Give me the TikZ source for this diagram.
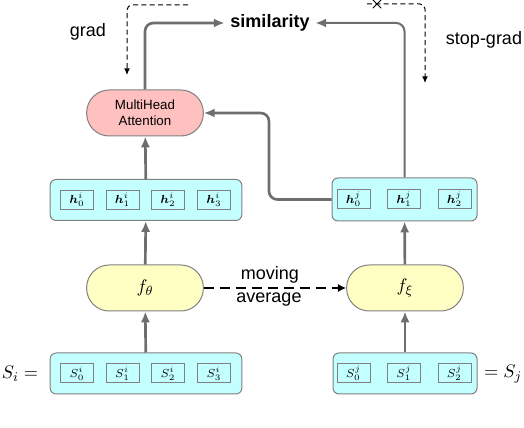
\documentclass[tikz,border=0pt]{standalone}
\usepackage{amsmath}
\usepackage{fontspec}
\setmainfont{Liberation Sans}
\usetikzlibrary{arrows.meta,positioning,shapes.misc}

\definecolor{linegray}{HTML}{6E6E6E}
\definecolor{bordergray}{HTML}{808080}
\definecolor{attpink}{HTML}{FFC0C0}
\definecolor{encyellow}{HTML}{FFFFC4}
\definecolor{seqcyan}{HTML}{C4FFFF}

\begin{document}
\begin{tikzpicture}[x=0.6pt,y=-0.6pt,
  every node/.style={font=\fontsize{10.8}{13}\selectfont}
]

\tikzstyle{pill}=[draw=bordergray,line width=0.6pt,rounded corners=13.5pt,minimum width=70pt,minimum height=27.6pt,inner sep=0pt,align=center]
\tikzstyle{seqbox}=[draw=bordergray,line width=0.6pt,fill=seqcyan,rounded corners=3.6pt,minimum height=24.6pt,inner sep=0pt]
\tikzstyle{cell}=[draw=bordergray,line width=0.6pt,minimum width=19.8pt,minimum height=11.4pt,inner sep=0pt,font=\fontsize{7.5}{8}\selectfont]
\tikzstyle{flow}=[draw=linegray,line width=1.6pt,rounded corners=5pt,-{Latex[length=6.5pt,width=5.5pt]}]
\tikzstyle{gradline}=[draw=black,line width=0.6pt,dash pattern=on 3pt off 2pt,rounded corners=3pt,-{Latex[length=4pt,width=3.5pt]}]

\useasboundingbox (0,0) rectangle (524,428);

% encoders
\node [pill,fill=attpink,font=\fontsize{8}{9.5}\selectfont] (mha) at (145,113) {MultiHead\\Attention};
\node [pill,fill=encyellow] (fi) at (145,288) {$f_\theta$};
\node [pill,fill=encyellow] (fj) at (405,288) {$f_\xi$};

% sequences
\node [seqbox,minimum width=115pt] (hi) at (146,200) {};
\node [seqbox,minimum width=87pt,minimum height=25.8pt] (hj) at (404.5,199.5) {};
\node [seqbox,minimum width=115pt] (si) at (146,373.5) {};
\node [seqbox,minimum width=86.4pt] (sj) at (405,373.5) {};

\foreach \k/\x in {0/77,1/122.5,2/168,3/214} {
  \node [cell] (hi\k) at (\x,200) {$\boldsymbol{h}^i_\k$};
  \node [cell] (si\k) at (\x,373.5) {$S^i_\k$};
}
\foreach \k/\x in {0/353.5,1/404,2/454.5} {
  \node [cell] (hj\k) at (\x,199.5) {$\boldsymbol{h}^j_\k$};
  \node [cell] (sj\k) at (\x,373.5) {$S^j_\k$};
}

\node (silabel) at (20,374) {$S_i =$};
\node (sjlabel) at (503,374) {$= S_j$};

\node [font=\fontsize{10.8}{13}\selectfont\bfseries] (sim) at (270,23) {similarity};

% main flow
\draw [flow] (si) -- (fi);
\draw [flow] (sj) -- (fj);
\draw [flow] (fi) -- (hi);
\draw [flow] (fj) -- (hj);
\draw [flow] (hi) -- (mha);
\coordinate (bend) at (269,113);
\draw [flow] (hj.west) -| (bend) -- (mha.east);
\draw [flow] (mha.north) |- (sim.west);
\draw [flow,line width=1.2pt] (hj.north) |- (sim.east);

% moving average
\draw [black,line width=1.6pt,dash pattern=on 6pt off 3.6pt,-{Latex[length=5pt,width=5pt]}] (fi.east) -- (fj.west);
\node [anchor=base,inner sep=0pt] (moving) at (270,280) {moving};
\node [anchor=base,inner sep=0pt] (average) at (269,303) {average};

% gradients
\coordinate (gradstart) at (188,5);
\coordinate (gradend) at (127,75);
\draw [gradline] (gradstart) -| (gradend);
\node (grad) at (88,32) {grad};

\coordinate (stopstart) at (367,4);
\coordinate (stopend) at (425,83);
\draw [gradline] (stopstart) -| (stopend);
\node [draw,cross out,line width=0.6pt,minimum size=4.5pt,inner sep=0pt] (cut) at (377,4) {};
\node (stopgrad) at (484,40) {stop-grad};

\end{tikzpicture}
\end{document}
